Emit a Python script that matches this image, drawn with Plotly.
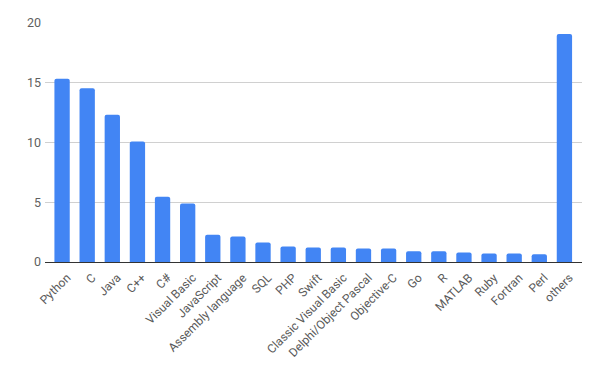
import plotly.graph_objects as go

languages = ["Python", "C", "Java", "C++", "C#", "Visual Basic", "JavaScript",
             "Assembly language", "SQL", "PHP", "Swift", "Classic Visual Basic",
             "Delphi/Object Pascal", "Objective-C", "Go", "R", "MATLAB", "Ruby",
             "Fortran", "Perl", "others"]
shares = [15.34, 14.53, 12.33, 10.09, 5.46, 4.9, 2.28, 2.14, 1.64, 1.3, 1.22, 1.22,
          1.14, 1.14, 0.89, 0.89, 0.8, 0.72, 0.72, 0.64, 19.08]
y_ticks = [0, 5, 10, 15, 20]

fig = go.Figure(go.Bar(
    x=languages, y=shares,
    marker=dict(color="#4285F4", cornerradius=2, line=dict(width=0)),
))

# page body has an 8px default margin, so the figure is offset by 8px
fig.update_layout(
    width=591, height=361,
    margin=dict(l=37, r=17, t=15, b=107, autoexpand=False),
    paper_bgcolor="white", plot_bgcolor="white",
    bargap=0.39,
    showlegend=False,
    font=dict(family="Roboto", size=12, color="#5f5f5f"),
    xaxis=dict(
        range=[-0.68, 20.7],
        tickangle=-45,
        automargin=False,
        showgrid=False,
        showline=True, linecolor="#333333", linewidth=1,
        ticks="",
        ticklabelshift=5,
        ticklabelstandoff=3,
        tickfont=dict(size=12, color="#5a5a5a"),
    ),
    yaxis=dict(
        range=[0, 20],
        tickvals=y_ticks,
        automargin=False,
        showgrid=True, gridcolor="#d0d0d0", gridwidth=1,
        zeroline=False,
        ticks="", ticklen=0,
        ticklabelstandoff=3,
        tickfont=dict(size=12.5, color="#5f5f5f"),
    ),
)

fig.write_html("out.html")
